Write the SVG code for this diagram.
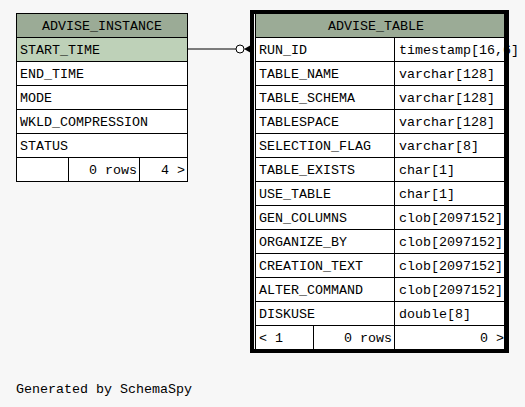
<svg xmlns="http://www.w3.org/2000/svg" width="525" height="407" viewBox="0 0 525 407">
<style>
.t{font-family:"Liberation Mono","DejaVu Sans Mono",monospace;font-size:13.33px;fill:#000}
.c{fill:#fff;stroke:#000;stroke-width:1}
.h{fill:#9bab96;stroke:#000;stroke-width:1}
.s{fill:#bed1b8;stroke:#000;stroke-width:1}
.r{text-anchor:end}
.m{text-anchor:middle}
</style>
<rect width="525" height="407" fill="#f7f7f7"/>
<g id="connectors">
<line x1="188" y1="49" x2="236" y2="49" stroke="#000" stroke-width="1"/>
<circle cx="240" cy="49" r="4" fill="#fff" stroke="#000" stroke-width="1"/>
<polygon points="244,49 251,45 251,53" fill="#000"/>
</g>
<g id="ADVISE_INSTANCE">
<rect class="h" x="16.5" y="13.5" width="171" height="24"/>
<text class="t m" x="102" y="30">ADVISE_INSTANCE</text>
<rect class="s" x="16.5" y="37.5" width="171" height="24"/>
<text class="t" x="20" y="54">START_TIME</text>
<rect class="c" x="16.5" y="61.5" width="171" height="24"/>
<text class="t" x="20" y="78">END_TIME</text>
<rect class="c" x="16.5" y="85.5" width="171" height="24"/>
<text class="t" x="20" y="102">MODE</text>
<rect class="c" x="16.5" y="109.5" width="171" height="24"/>
<text class="t" x="20" y="126">WKLD_COMPRESSION</text>
<rect class="c" x="16.5" y="133.5" width="171" height="24"/>
<text class="t" x="20" y="150">STATUS</text>
<rect class="c" x="16.5" y="157.5" width="52" height="24"/>
<rect class="c" x="68.5" y="157.5" width="71" height="24"/>
<rect class="c" x="139.5" y="157.5" width="48" height="24"/>
<text class="t r" x="137" y="174">0 rows</text>
<text class="t r" x="185" y="174">4 &gt;</text>
</g>
<g id="ADVISE_TABLE">
<rect class="h" x="255.5" y="13.5" width="249" height="24"/>
<text class="t m" x="376" y="30">ADVISE_TABLE</text>
<rect class="c" x="255.5" y="37.5" width="139" height="24"/><rect class="c" x="394.5" y="37.5" width="110" height="24"/>
<text class="t" x="259" y="54">RUN_ID</text><text class="t" x="399" y="54">timestamp[16,6]</text>
<rect class="c" x="255.5" y="61.5" width="139" height="24"/><rect class="c" x="394.5" y="61.5" width="110" height="24"/>
<text class="t" x="259" y="78">TABLE_NAME</text><text class="t" x="399" y="78">varchar[128]</text>
<rect class="c" x="255.5" y="85.5" width="139" height="24"/><rect class="c" x="394.5" y="85.5" width="110" height="24"/>
<text class="t" x="259" y="102">TABLE_SCHEMA</text><text class="t" x="399" y="102">varchar[128]</text>
<rect class="c" x="255.5" y="109.5" width="139" height="24"/><rect class="c" x="394.5" y="109.5" width="110" height="24"/>
<text class="t" x="259" y="126">TABLESPACE</text><text class="t" x="399" y="126">varchar[128]</text>
<rect class="c" x="255.5" y="133.5" width="139" height="24"/><rect class="c" x="394.5" y="133.5" width="110" height="24"/>
<text class="t" x="259" y="150">SELECTION_FLAG</text><text class="t" x="399" y="150">varchar[8]</text>
<rect class="c" x="255.5" y="157.5" width="139" height="24"/><rect class="c" x="394.5" y="157.5" width="110" height="24"/>
<text class="t" x="259" y="174">TABLE_EXISTS</text><text class="t" x="399" y="174">char[1]</text>
<rect class="c" x="255.5" y="181.5" width="139" height="24"/><rect class="c" x="394.5" y="181.5" width="110" height="24"/>
<text class="t" x="259" y="198">USE_TABLE</text><text class="t" x="399" y="198">char[1]</text>
<rect class="c" x="255.5" y="205.5" width="139" height="24"/><rect class="c" x="394.5" y="205.5" width="110" height="24"/>
<text class="t" x="259" y="222">GEN_COLUMNS</text><text class="t" x="399" y="222">clob[2097152]</text>
<rect class="c" x="255.5" y="229.5" width="139" height="24"/><rect class="c" x="394.5" y="229.5" width="110" height="24"/>
<text class="t" x="259" y="246">ORGANIZE_BY</text><text class="t" x="399" y="246">clob[2097152]</text>
<rect class="c" x="255.5" y="253.5" width="139" height="24"/><rect class="c" x="394.5" y="253.5" width="110" height="24"/>
<text class="t" x="259" y="270">CREATION_TEXT</text><text class="t" x="399" y="270">clob[2097152]</text>
<rect class="c" x="255.5" y="277.5" width="139" height="24"/><rect class="c" x="394.5" y="277.5" width="110" height="24"/>
<text class="t" x="259" y="294">ALTER_COMMAND</text><text class="t" x="399" y="294">clob[2097152]</text>
<rect class="c" x="255.5" y="301.5" width="139" height="24"/><rect class="c" x="394.5" y="301.5" width="110" height="24"/>
<text class="t" x="259" y="318">DISKUSE</text><text class="t" x="399" y="318">double[8]</text>
<rect class="c" x="255.5" y="325.5" width="58" height="24"/><rect class="c" x="313.5" y="325.5" width="81" height="24"/><rect class="c" x="394.5" y="325.5" width="110" height="24"/>
<text class="t" x="259" y="342">&lt; 1</text>
<text class="t r" x="392" y="342">0 rows</text>
<text class="t r" x="504" y="342">0 &gt;</text>
<rect x="252" y="12" width="255" height="339" fill="none" stroke="#000" stroke-width="4"/>
</g>
<text class="t" x="16" y="393">Generated by SchemaSpy</text>
</svg>
